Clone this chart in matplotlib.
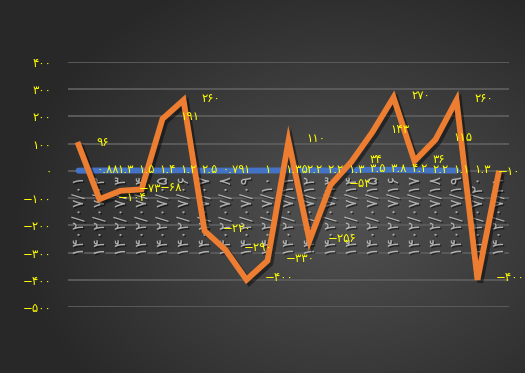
import matplotlib
matplotlib.use("Agg")
import matplotlib.pyplot as plt
import matplotlib.patheffects as pe
import numpy as np

plt.rcParams['font.family'] = ['DejaVu Sans']

categories = ["1402/07/%02d" % d for d in range(1, 22)]
orange_values = [96, -104, -73, -68, 191, 260, -220, -290, -400, -330, 110,
                 -256, -52, 34, 143, 270, 36, 115, 260, -400, -10]
blue_values = [0.88, 1.3, 1.5, 1.4, 1.2, 2.5, 0.79, 1, 1, 1.35, 2.2, 2.2,
               1.3, 3.5, 3.8, 4.2, 2.2, 1.1, 1.3]
y_ticks = [-500, -400, -300, -200, -100, 0, 100, 200, 300, 400]

FA = str.maketrans("0123456789", "۰۱۲۳۴۵۶۷۸۹")


def fa(v):
    if isinstance(v, float) and not v.is_integer():
        s = ("%g" % v)
    else:
        s = str(int(v))
    return s.translate(FA)


fig = plt.figure(figsize=(5.25, 3.73), dpi=100)

# background radial gradient
bg = fig.add_axes([0, 0, 1, 1], zorder=-10)
W, H = 525, 373
yy, xx = np.mgrid[0:H, 0:W]
cx, cy = 340, 215
r = np.sqrt(((xx - cx) / 330.0) ** 2 + ((yy - cy) / 260.0) ** 2)
r = np.clip(r, 0, 1)
inner = np.array([0x52, 0x52, 0x52]) / 255.0
outer = np.array([0x28, 0x28, 0x28]) / 255.0
img = inner[None, None, :] * (1 - r[..., None]) + outer[None, None, :] * r[..., None]
bg.imshow(img, aspect='auto', extent=[0, 1, 0, 1])
bg.axis('off')

ax = fig.add_axes([68 / 525, 66 / 373, 441 / 525, 245 / 373])
ax.patch.set_alpha(0)
for s in ax.spines.values():
    s.set_visible(False)

x = np.arange(len(categories))
xb = np.arange(len(blue_values))

ax.set_xlim(-0.5, len(categories) - 0.5)
ax.set_ylim(-500, 400)
ax.set_yticks(y_ticks)
ax.set_yticklabels([fa(v).replace('-', '−') if v < 0 else fa(v) for v in y_ticks],
                   color='#ffff00', fontsize=8.5)
ax.tick_params(axis='y', length=0, pad=12)
ax.set_xticks([])
ax.grid(axis='y', color='#5a5a5a', linewidth=1.4)
ax.set_axisbelow(True)

# x category labels (rotated) just below zero line
for i, c in enumerate(categories):
    ax.annotate(c.translate(FA), (i, 0), xytext=(0, -6), textcoords='offset pixels',
                rotation=90, ha='center', va='top', color='#c4c4c4', fontsize=11.5,
                zorder=1, alpha=0.85,
                path_effects=[pe.withSimplePatchShadow(offset=(1, -1), shadow_rgbFace='black', alpha=0.5)])

# blue line
ax.plot(xb, blue_values, color='#4472c4', linewidth=4.3, solid_capstyle='round', zorder=3)

# orange line
ax.plot(x, orange_values, color='#ed7d31', linewidth=4.2, solid_joinstyle='miter',
        zorder=4,
        path_effects=[pe.SimpleLineShadow(offset=(2, -2), shadow_color='black', alpha=0.45),
                      pe.Normal()])

# blue labels
for i, v in enumerate(blue_values):
    ax.annotate(fa(v), (i, v), xytext=(18, 1), textcoords='offset pixels',
                ha='left', va='center', color='#ffff00', fontsize=8.5, zorder=6,
                annotation_clip=False)

# orange labels
n = len(orange_values)
for i, v in enumerate(orange_values):
    dx = 18 if i < n - 1 else -1
    txt = fa(v).replace('-', '−')
    ax.annotate(txt, (i, v), xytext=(dx, 2), textcoords='offset pixels',
                ha='left', va='center', color='#ffff00', fontsize=8.5, zorder=6,
                annotation_clip=False)

fig.savefig("out.png", dpi=100)
